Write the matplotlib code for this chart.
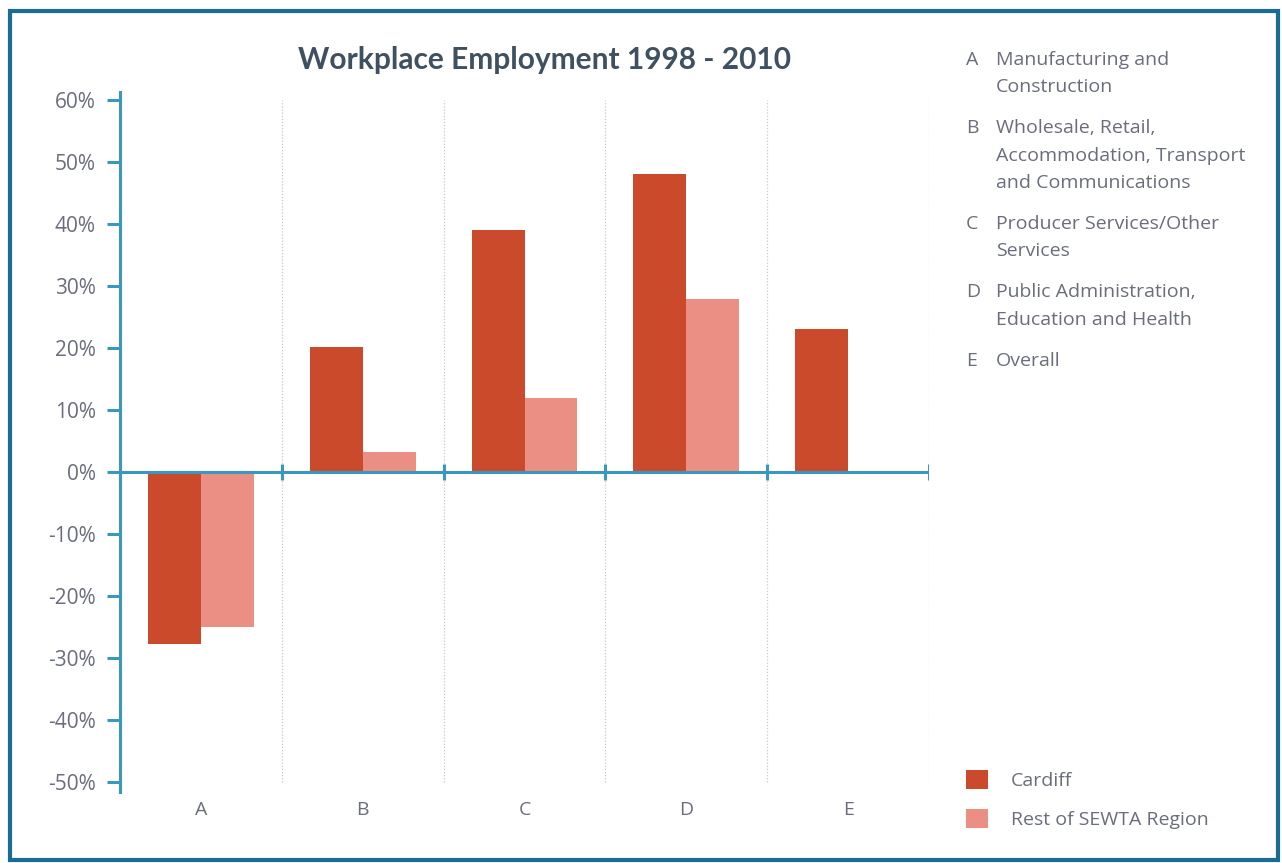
import matplotlib
matplotlib.use("Agg")
import matplotlib.pyplot as plt
from matplotlib.patches import Rectangle
import numpy as np

plt.rcParams['font.family'] = ['Open Sans', 'DejaVu Sans']

categories = ["A", "B", "C", "D", "E"]
cardiff = [-27.7, 20.1, 39.1, 48.0, 23.0]
rest_sewta = [-25.0, 3.2, 12.0, 27.9, np.nan]
series_names = ["Cardiff", "Rest of SEWTA Region"]
yticks = [-50, -40, -30, -20, -10, 0, 10, 20, 30, 40, 50, 60]
title = "Workplace Employment 1998 - 2010"
key_letters = ["A", "B", "C", "D", "E"]
key_texts = [
    ["Manufacturing and", "Construction"],
    ["Wholesale, Retail,", "Accommodation, Transport", "and Communications"],
    ["Producer Services/Other", "Services"],
    ["Public Administration,", "Education and Health"],
    ["Overall"],
]

c_cardiff = "#cb4a2b"
c_rest = "#eb8f84"
c_axis = "#3a98bf"
c_text = "#6a6d7c"
c_title = "#3f5160"
c_border = "#1a6c95"

W, H = 1282, 863
fig = plt.figure(figsize=(W / 100, H / 100), dpi=100)

# outer frame
fig.patches.append(Rectangle((10 / W, 1 - 860 / H), 1268 / W, 849 / H,
                             transform=fig.transFigure, fill=False,
                             edgecolor=c_border, linewidth=3.0))

ax = fig.add_axes([120 / W, 1 - 791.7 / H, (929 - 120) / W, (791.7 - 92) / H])
x = np.arange(len(categories))
bw = 0.327
b1 = ax.bar(x - bw / 2, cardiff, bw, color=c_cardiff, label=series_names[0], zorder=2)
b2 = ax.bar(x + bw / 2, rest_sewta, bw, color=c_rest, label=series_names[1], zorder=2)

ax.set_xlim(-0.5, len(categories) - 0.5)
ax.set_ylim(-51.6, 61.3)

for s in ["top", "right", "bottom"]:
    ax.spines[s].set_visible(False)
ax.spines["left"].set_color(c_axis)
ax.spines["left"].set_linewidth(2.2)

ax.set_yticks(yticks)
ax.set_yticklabels([f"{v}%" for v in yticks])
ax.tick_params(axis="y", length=9.5, width=2.2, color=c_axis, labelcolor=c_text,
               labelsize=15, pad=8)
ax.set_xticks(x)
ax.set_xticklabels(categories)
ax.tick_params(axis="x", length=0, labelcolor=c_text, labelsize=14, pad=7)

# separators
bounds = np.arange(len(categories)) + 0.5
ax.vlines(bounds, yticks[0], yticks[-1], colors="#c8c8c8", linestyles=(0, (1, 1.5)),
          linewidth=0.9, zorder=1)
# zero line
ax.axhline(0, color=c_axis, linewidth=2.2, zorder=3)
ax.vlines(bounds, -1.3, 1.3, colors=c_axis, linewidth=2.2, zorder=3)

fig.text(544 / W, 1 - 60 / H, title, ha="center", va="center", fontsize=21.5,
         fontweight="bold", color=c_title, family=["Lato", "DejaVu Sans"])

# category key
y = 60
for letter, lines in zip(key_letters, key_texts):
    fig.text(966 / W, 1 - y / H, letter, ha="left", va="center", fontsize=14, color=c_text)
    for ln in lines:
        fig.text(996 / W, 1 - y / H, ln, ha="left", va="center", fontsize=14, color=c_text)
        y += 27.2
    y += 14

fig.legend(handles=[b1, b2], labels=series_names, loc="upper left",
           bbox_to_anchor=(948 / W, 1 - 752 / H), frameon=False, fontsize=14,
           labelcolor=c_text, handlelength=1.15, handleheight=1.15,
           handletextpad=1.2, labelspacing=1.0)

fig.savefig("out.png", dpi=100)
